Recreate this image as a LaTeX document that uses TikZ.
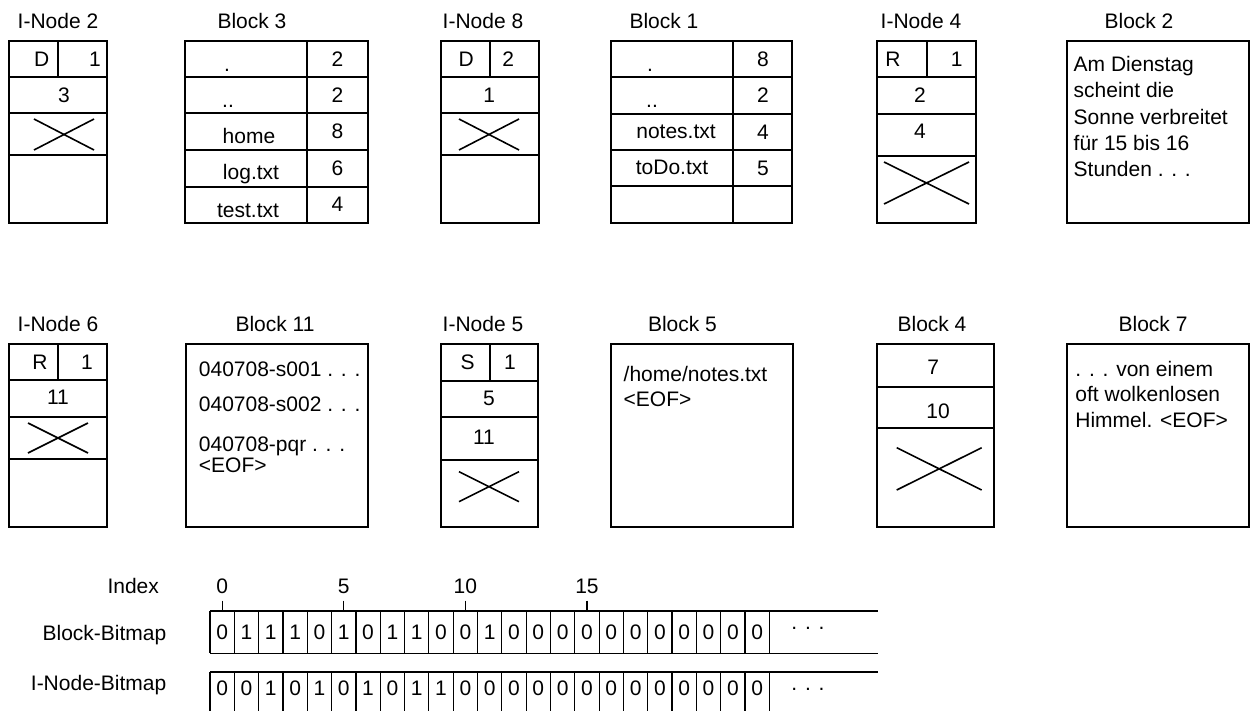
\documentclass[tikz,border=0pt]{standalone}
\usepackage{fontspec}
\setmainfont{Liberation Sans}
\newcommand{\crossout}[4]{\draw[xline] (#1,#2) -- (#3,#4) (#1,#4) -- (#3,#2);}

\begin{document}
\begin{tikzpicture}[x=0.5pt, y=-0.5pt,
  box/.style={line width=1pt},
  xline/.style={line width=0.8pt},
  bitsep/.style={line width=0.6pt},
  txt/.style={inner sep=0pt, font=\fontsize{10.5}{12}\selectfont},
  lbl/.style={txt, anchor=base},
  ltxt/.style={txt, anchor=base west}]

\useasboundingbox (0,0) rectangle (1256,711);

% top row
\node[lbl] (in2) at (58,28.3) {I-Node 2};
\node[lbl] (bl3) at (252,28.3) {Block 3};
\node[lbl] (in8) at (483,28.3) {I-Node 8};
\node[lbl] (bl1) at (664,28.3) {Block 1};
\node[lbl] (in4) at (921,28.3) {I-Node 4};
\node[lbl] (bl2) at (1139,28.3) {Block 2};

% I-Node 2
\draw[box] (9,41) rectangle (107,223);
\draw[box] (9,77) -- (107,77) (9,113) -- (107,113) (9,155) -- (107,155) (58,41) -- (58,77);
\node[txt] (in2t) at (41.7,59) {D};
\node[txt] (in2l) at (95,59) {1};
\node[txt] (in2s) at (64,95) {3};
\crossout{34}{119}{94}{150}

% Block 3
\draw[box] (185,41) rectangle (368,223);
\draw[box] (307,41) -- (307,223);
\foreach \y in {77,113,150,187} \draw[box] (185,\y) -- (368,\y);
\foreach \n/\y [count=\i] in {2/59,2/95,8/131.5,6/168.5,4/204.5}
  \node[txt] (bl3n\i) at (337.5,\y) {\n};
\node[lbl] (bl3a) at (227,72) {.};
\node[lbl] (bl3b) at (228,108) {..};
\node[lbl] (bl3c) at (249,144) {home};
\node[lbl] (bl3d) at (251,180) {log.txt};
\node[lbl] (bl3e) at (248,217) {test.txt};

% I-Node 8
\draw[box] (440.7,41) rectangle (539,223);
\draw[box] (440.7,77) -- (539,77) (440.7,113) -- (539,113) (440.7,155) -- (539,155) (490,41) -- (490,77);
\node[txt] (in8t) at (466.3,59) {D};
\node[txt] (in8l) at (508.3,59) {2};
\node[txt] (in8s) at (489.3,95) {1};
\crossout{459}{119}{519}{150}

% Block 1
\draw[box] (610.7,41) rectangle (792.3,223);
\draw[box] (733.3,41) -- (733.3,223);
\foreach \y in {77,114,150,186} \draw[box] (610.7,\y) -- (792.3,\y);
\foreach \n/\y [count=\i] in {8/59,2/95,4/132,5/168}
  \node[txt] (bl1n\i) at (763,\y) {\n};
\node[lbl] (bl1a) at (650,72) {.};
\node[lbl] (bl1b) at (652,108) {..};
\node[lbl] (bl1c) at (676,138.3) {notes.txt};
\node[lbl] (bl1d) at (672,175) {toDo.txt};

% I-Node 4
\draw[box] (877.3,41) rectangle (975.7,223);
\draw[box] (877.3,77) -- (975.7,77) (877.3,114) -- (975.7,114) (877.3,156) -- (975.7,156) (927.3,41) -- (927.3,77);
\node[txt] (in4t) at (893,59) {R};
\node[txt] (in4l) at (956.7,59) {1};
\node[txt] (in4s) at (920,95) {2};
\node[txt] (in4d) at (920,131.7) {4};
\crossout{884}{162}{969}{204}

% Block 2
\draw[box] (1066.7,41) rectangle (1249.3,223);
\foreach \t [count=\i from 0] in {Am Dienstag,scheint die,Sonne verbreitet,für 15 bis 16,Stunden . . .}
  \node[ltxt] (bl2l\i) at (1073.3,71.7+26.3*\i) {\t};

% middle row
\node[lbl] (in6) at (58,331.7) {I-Node 6};
\node[lbl] (bl11) at (275,331.7) {Block 11};
\node[lbl] (in5) at (483,331.7) {I-Node 5};
\node[lbl] (bl5) at (682.5,331.7) {Block 5};
\node[lbl] (bl4) at (932,331.7) {Block 4};
\node[lbl] (bl7) at (1153,331.7) {Block 7};

% I-Node 6
\draw[box] (9,344) rectangle (107,526.7);
\draw[box] (9,380) -- (107,380) (9,416.7) -- (107,416.7) (9,459.3) -- (107,459.3) (58.3,344) -- (58.3,380);
\node[txt] (in6t) at (40,362) {R};
\node[txt] (in6l) at (87,362) {1};
\node[txt] (in6s) at (58,397) {11};
\crossout{28}{423}{88}{453}

% Block 11
\draw[box] (185.7,344) rectangle (368.3,526.7);
\node[ltxt] (bl11a) at (198.5,376.5) {040708-s001 . . .};
\node[ltxt] (bl11b) at (198.5,411) {040708-s002 . . .};
\node[ltxt] (bl11c) at (198.5,451) {040708-pqr . . .};
\node[ltxt] (bl11d) at (198.5,472.5) {<EOF>};

% I-Node 5
\draw[box] (440.7,344) rectangle (538.3,526.7);
\draw[box] (440.7,380.7) -- (538.3,380.7) (440.7,417.3) -- (538.3,417.3) (440.7,460) -- (538.3,460) (490,344) -- (490,380.7);
\node[txt] (in5t) at (467.7,362) {S};
\node[txt] (in5l) at (510,362) {1};
\node[txt] (in5s) at (489,398.7) {5};
\node[txt] (in5d) at (484,437) {11};
\crossout{459}{471.7}{519}{501.7}

% Block 5
\draw[box] (610.7,344) rectangle (793.3,526.7);
\node[ltxt] (bl5a) at (623.3,381.7) {/home/notes.txt};
\node[ltxt] (bl5b) at (623.3,406) {<EOF>};

% Block 4
\draw[box] (877.3,344) rectangle (994,526.7);
\draw[box] (877.3,387.3) -- (994,387.3) (877.3,428.3) -- (994,428.3);
\node[txt] (bl4a) at (933.3,367.7) {7};
\node[txt] (bl4b) at (938,411) {10};
\crossout{896.7}{447.7}{981.7}{490}

% Block 7
\draw[box] (1067.3,344) rectangle (1249.3,526.7);
\node[ltxt] (bl7a) at (1075,376.7) {. . . von einem};
\node[ltxt] (bl7b) at (1075,401.7) {oft wolkenlosen};
\node[ltxt] (bl7c) at (1075,427.3) {Himmel. <EOF>};

% bitmaps
\node[txt, anchor=base east] (idx) at (159.3,593.3) {Index};
\node[txt, anchor=base east] (bbm) at (166.7,640) {Block-Bitmap};
\node[txt, anchor=base east] (ibm) at (166.7,690) {I-Node-Bitmap};

\foreach \n in {0,5,10,15} {
  \node[lbl] (ix\n) at (222.16+24.32*\n,593.3) {\n};
  \draw[bitsep] (222.16+24.32*\n,600.7) -- (222.16+24.32*\n,610.7);
}

\draw[xline] (210,610.7) -- (878.3,610.7) (210,653.3) -- (878.3,653.3) (210,671.7) -- (878.3,671.7);
\foreach \k in {0,...,23} {
  \draw[bitsep] (210+24.32*\k,610.7) -- (210+24.32*\k,653.3);
  \draw[bitsep] (210+24.32*\k,671.7) -- (210+24.32*\k,711);
}
\foreach \b [count=\i from 0] in {0,1,1,1,0,1,0,1,1,0,0,1,0,0,0,0,0,0,0,0,0,0,0}
  \node[lbl] (bb\i) at (222.16+24.32*\i,639.3) {\b};
\foreach \b [count=\i from 0] in {0,0,1,0,1,0,1,0,1,1,0,0,0,0,0,0,0,0,0,0,0,0,0}
  \node[lbl] (ib\i) at (222.16+24.32*\i,695) {\b};
\node[lbl] (bbdots) at (808,629.5) {. . .};
\node[lbl] (ibdots) at (808,690.5) {. . .};

\end{tikzpicture}
\end{document}
